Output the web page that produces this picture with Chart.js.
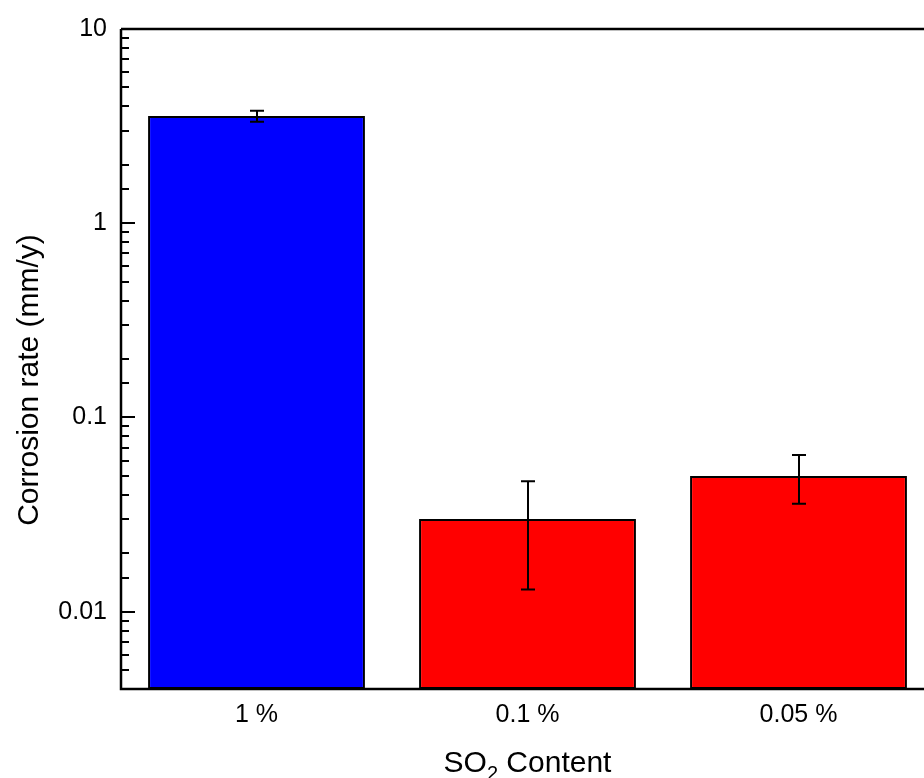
<!DOCTYPE html>
<html>
<head>
<meta charset="utf-8">
<script src="https://cdn.jsdelivr.net/npm/chart.js@4.4.1/dist/chart.umd.min.js"></script>
<style>
  html, body { margin: 0; padding: 0; background: #fff; overflow: hidden; }
  #wrap { width: 934px; height: 778px; }
</style>
</head>
<body>
<div id="wrap"><canvas id="chart" width="934" height="778"></canvas></div>
<script>
// values
var categories = ['1 %', '0.1 %', '0.05 %']
var rates = [3.57, 0.030, 0.050]
var errLow = [3.33, 0.013, 0.036]
var errHigh = [3.79, 0.047, 0.064]
var barColors = ['#0000ff', '#ff0000', '#ff0000']
var yTickLabels = [10, 1, 0.1, 0.01]

var FONT = '"Liberation Sans", Arial, sans-serif'

// inward ticks, frame lines, error bars and axis titles
var decorations = {
    id: 'decorations',
    afterDatasetsDraw: function(chart) {
        var ctx = chart.ctx
        var x = chart.scales.x
        var y = chart.scales.y
        ctx.save()
        ctx.strokeStyle = '#000'
        ctx.lineWidth = 2
        for (var i = 0; i < rates.length; i++) {
            var px = Math.round(x.getPixelForValue(i))
            var top = y.getPixelForValue(errHigh[i])
            var bot = y.getPixelForValue(errLow[i])
            ctx.beginPath()
            ctx.moveTo(px, top); ctx.lineTo(px, bot)
            ctx.moveTo(px - 7, top); ctx.lineTo(px + 7, top)
            ctx.moveTo(px - 7, bot); ctx.lineTo(px + 7, bot)
            ctx.stroke()
        }
        ctx.restore()
    },
    afterDraw: function(chart) {
        var ctx = chart.ctx
        var area = chart.chartArea
        var y = chart.scales.y
        ctx.save()
        ctx.strokeStyle = '#000'
        ctx.lineWidth = 2
        y.ticks.forEach(function(t) {
            var py = Math.round(y.getPixelForValue(t.value))
            var major = yTickLabels.indexOf(t.value) >= 0
            ctx.beginPath()
            ctx.moveTo(area.left, py)
            ctx.lineTo(area.left + (major ? 14 : 8), py)
            ctx.stroke()
        })
        ctx.lineWidth = 2.5
        ctx.beginPath()
        ctx.moveTo(area.left, area.top)
        ctx.lineTo(area.left, area.bottom)
        ctx.lineTo(area.right, area.bottom)
        ctx.moveTo(area.left, area.top)
        ctx.lineTo(area.right, area.top)
        ctx.lineTo(area.right, area.bottom)
        ctx.stroke()

        // y title
        ctx.fillStyle = '#000'
        ctx.font = '30px ' + FONT
        ctx.textAlign = 'center'
        ctx.textBaseline = 'middle'
        ctx.save()
        ctx.translate(30, 380)
        ctx.rotate(-Math.PI / 2)
        ctx.fillText('Corrosion rate (mm/y)', 0, 0)
        ctx.restore()

        // x title with subscript
        var big = '30px ' + FONT
        var small = '20px ' + FONT
        ctx.textAlign = 'left'
        ctx.textBaseline = 'alphabetic'
        ctx.font = big
        var w1 = ctx.measureText('SO').width
        var w3 = ctx.measureText(' Content').width
        ctx.font = small
        var w2 = ctx.measureText('2').width
        var cx = (area.left + area.right) / 2
        var sx = cx - (w1 + w2 + w3) / 2
        var base = 772
        ctx.font = big
        ctx.fillText('SO', sx, base)
        ctx.font = small
        ctx.fillText('2', sx + w1, base + 8)
        ctx.font = big
        ctx.fillText(' Content', sx + w1 + w2, base)
        ctx.restore()
    }
}

new Chart(document.getElementById('chart'), {
    type: 'bar',
    data: {
        labels: categories,
        datasets: [{
            data: rates,
            backgroundColor: barColors,
            borderColor: '#000',
            borderWidth: 2,
            borderSkipped: false,
            barPercentage: 0.8,
            categoryPercentage: 1.0
        }]
    },
    options: {
        responsive: false,
        animation: false,
        layout: { padding: { top: 28, right: 0, left: 0, bottom: 0 } },
        plugins: { legend: { display: false }, tooltip: { enabled: false } },
        scales: {
            x: {
                grid: { display: false, drawTicks: false },
                border: { display: false },
                ticks: { color: '#000', font: { family: FONT, size: 25 }, padding: 11, maxRotation: 0 },
                afterFit: function(s) { s.height = 89 }
            },
            y: {
                type: 'logarithmic',
                min: 0.004,
                max: 10,
                grid: { display: false, drawTicks: false },
                border: { display: false },
                ticks: {
                    color: '#000',
                    autoSkip: false,
                    padding: 14,
                    font: { family: FONT, size: 25 },
                    callback: function(v) {
                        return yTickLabels.indexOf(v) >= 0 ? String(v) : ''
                    }
                },
                afterFit: function(s) { s.width = 121 }
            }
        }
    },
    plugins: [decorations]
})
</script>
</body>
</html>
